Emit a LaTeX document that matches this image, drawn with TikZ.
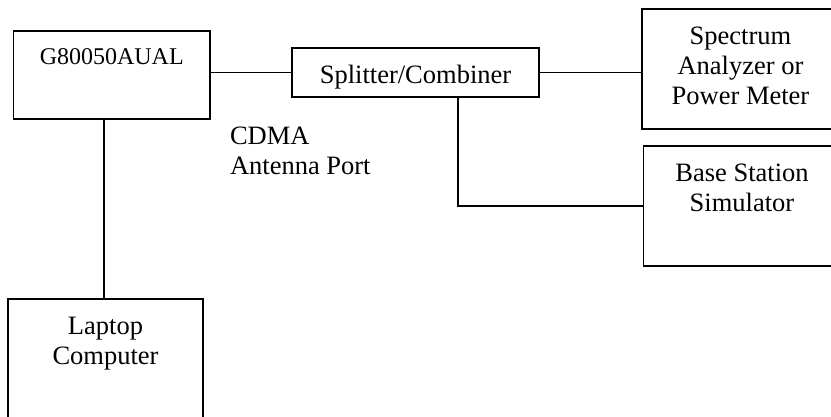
\documentclass[tikz,border=0pt]{standalone}
\usepackage{fontspec}
\setmainfont{Liberation Serif}
\begin{document}
\begin{tikzpicture}[x=1pt,y=-1pt,
  box/.style={draw=black, line width=1.9pt, rectangle, inner sep=0pt, outer sep=0pt},
  txt/.style={inner sep=0pt, outer sep=0pt, align=center, font=\fontsize{26.5}{30}\selectfont},
  wire/.style={draw=black, line width=1.9pt}]
\useasboundingbox (0,0) rectangle (831,416);
% boxes
\node[box, minimum width=196.5pt, minimum height=88pt] (g) at (111.75,75) {};
\node[box, minimum width=247pt, minimum height=49pt] (split) at (415.5,72.5) {};
\node[box, minimum width=198pt, minimum height=120pt] (spec) at (741,69) {};
\node[box, minimum width=196.5pt, minimum height=120pt] (base) at (741.75,206) {};
\node[box, minimum width=195pt, minimum height=131pt] (lap) at (105.5,364.5) {};
% texts
\node[txt, anchor=base, font=\fontsize{24}{28}\selectfont] (gt) at (111.75,64) {G80050AUAL};
\node[txt, anchor=base] (st) at (415.5,83) {Splitter/Combiner};
\node[txt, anchor=north] (spt) at (740.5,27) {Spectrum\\Analyzer or\\Power Meter};
\node[txt, anchor=north] (bt) at (742,164) {Base Station\\Simulator};
\node[txt, anchor=north] (lt) at (105.5,317) {Laptop\\Computer};
\node[txt, anchor=north west, align=left] (cdma) at (230,126.5) {CDMA\\Antenna Port};
% connectors
\draw[wire] (split.west -| g.east) -- (split.west);
\draw[wire] (split.east) -- (split.east -| spec.west);
\draw[wire] ([xshift=42.5pt]split.south) |- (base.west);
\draw[wire] ([xshift=-1.5pt]lap.north) -- ([xshift=-1.5pt]lap.north |- g.south);
\end{tikzpicture}
\end{document}
